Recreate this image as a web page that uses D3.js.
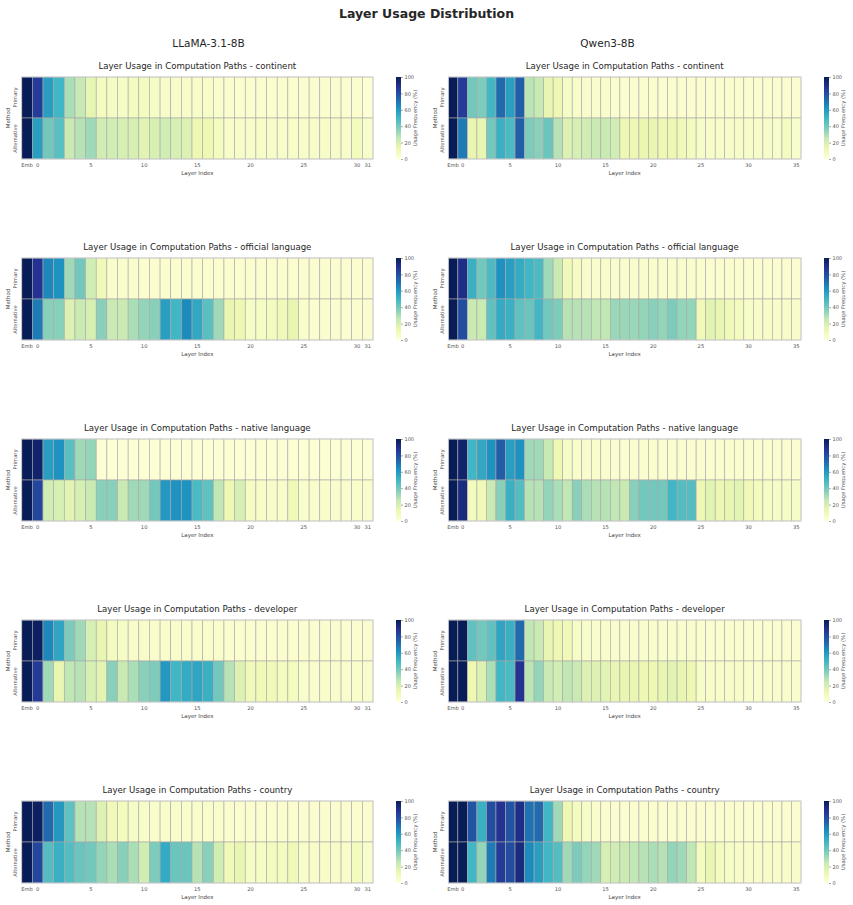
<!DOCTYPE html>
<html>
<head>
<meta charset="utf-8">
<script src="https://cdn.jsdelivr.net/npm/d3@7"></script>
<style>
  body { margin: 0; background: #fff; }
  svg { display: block; font-family: "DejaVu Sans", sans-serif; }
</style>
</head>
<body>
<svg id="chart" width="853" height="905"></svg>
<script>
// values (Usage Frequency %), first entry = Emb
const models = ["LLaMA-3.1-8B", "Qwen3-8B"];
const relations = ["continent", "official language", "native language", "developer", "country"];
const methods = ["Primary", "Alternative"];
const llamaTicks = ["Emb", "0", "5", "10", "15", "20", "25", "30", "31"];
const qwenTicks = ["Emb", "0", "5", "10", "15", "20", "25", "30", "35"];
const colorbarTicks = [0, 20, 40, 60, 80, 100];

const llamaContinentPrimary = [100, 85, 58, 50, 30, 25, 15, 8, 7, 6, 8, 8, 6, 5, 5, 5, 5, 5, 4, 3, 3, 3, 3, 3, 3, 3, 3, 3, 3, 3, 3, 3, 2];
const llamaContinentAlternative = [100, 58, 40, 45, 24, 28, 32, 22, 22, 20, 20, 16, 20, 22, 20, 18, 12, 12, 8, 5, 5, 5, 5, 5, 5, 5, 5, 5, 5, 5, 5, 8, 4];
const qwenContinentPrimary = [100, 85, 40, 38, 50, 72, 58, 75, 27, 25, 14, 12, 6, 5, 4, 4, 4, 3, 3, 3, 3, 3, 3, 3, 3, 3, 3, 3, 3, 3, 3, 3, 3, 3, 3, 3, 3];
const qwenContinentAlternative = [100, 68, 14, 14, 40, 52, 48, 75, 38, 36, 42, 28, 18, 20, 22, 24, 24, 22, 12, 12, 13, 14, 12, 12, 10, 8, 5, 5, 5, 5, 5, 5, 5, 5, 5, 8, 4];

const llamaOfficialPrimary = [100, 88, 65, 62, 32, 40, 22, 10, 4, 4, 4, 3, 3, 3, 3, 3, 3, 3, 3, 3, 3, 3, 3, 3, 3, 3, 3, 3, 3, 3, 3, 3, 3];
const llamaOfficialAlternative = [100, 68, 36, 36, 18, 24, 20, 36, 24, 24, 30, 34, 36, 58, 50, 64, 55, 45, 32, 14, 12, 6, 6, 8, 10, 14, 4, 3, 3, 3, 3, 3, 3];
const qwenOfficialPrimary = [100, 90, 52, 40, 48, 62, 58, 54, 50, 48, 32, 24, 10, 7, 4, 4, 4, 4, 4, 4, 4, 4, 4, 4, 4, 4, 3, 3, 3, 3, 3, 3, 3, 3, 3, 3, 3];
const qwenOfficialAlternative = [100, 80, 24, 24, 44, 54, 52, 44, 42, 50, 40, 38, 28, 28, 28, 26, 26, 33, 33, 33, 34, 36, 34, 38, 34, 34, 10, 16, 14, 10, 8, 5, 5, 5, 5, 5, 5];

const llamaNativePrimary = [100, 96, 58, 62, 45, 32, 34, 2, 2, 2, 2, 2, 2, 2, 2, 2, 2, 2, 2, 2, 2, 2, 2, 2, 2, 2, 2, 2, 2, 2, 2, 2, 2];
const llamaNativeAlternative = [100, 82, 22, 20, 16, 20, 24, 36, 36, 24, 32, 32, 40, 60, 62, 62, 48, 44, 26, 12, 20, 7, 5, 5, 5, 10, 4, 4, 4, 4, 4, 4, 4];
const qwenNativePrimary = [100, 96, 50, 55, 62, 75, 58, 62, 32, 32, 25, 12, 6, 4, 4, 4, 3, 3, 3, 3, 3, 3, 3, 3, 3, 3, 3, 3, 3, 3, 3, 3, 3, 3, 3, 3, 3];
const qwenNativeAlternative = [100, 92, 8, 10, 24, 36, 52, 46, 28, 28, 34, 30, 26, 36, 30, 28, 28, 26, 24, 36, 40, 40, 40, 50, 46, 46, 12, 16, 12, 14, 16, 10, 8, 6, 6, 6, 6];

const llamaDeveloperPrimary = [100, 98, 65, 56, 38, 32, 20, 14, 8, 6, 5, 5, 4, 4, 4, 4, 4, 4, 4, 3, 3, 3, 3, 3, 3, 3, 3, 3, 3, 3, 3, 3, 3];
const llamaDeveloperAlternative = [100, 86, 32, 14, 26, 28, 20, 16, 36, 24, 30, 36, 38, 60, 50, 54, 56, 52, 40, 28, 18, 10, 10, 10, 8, 8, 4, 4, 4, 4, 4, 4, 4];
const qwenDeveloperPrimary = [100, 100, 44, 40, 44, 56, 52, 72, 26, 24, 14, 12, 10, 6, 5, 4, 4, 4, 4, 4, 4, 4, 4, 4, 4, 4, 3, 3, 3, 3, 3, 3, 3, 3, 3, 3, 3];
const qwenDeveloperAlternative = [100, 100, 12, 18, 30, 50, 48, 88, 27, 34, 24, 22, 26, 24, 18, 18, 16, 14, 14, 14, 12, 12, 14, 16, 14, 12, 5, 5, 5, 5, 5, 4, 4, 4, 4, 4, 4];

const llamaCountryPrimary = [100, 98, 72, 60, 44, 28, 28, 18, 10, 8, 6, 5, 4, 4, 4, 4, 4, 4, 4, 3, 3, 3, 3, 3, 3, 3, 3, 3, 3, 3, 3, 3, 3];
const llamaCountryAlternative = [100, 82, 46, 52, 46, 42, 40, 34, 30, 36, 30, 22, 38, 54, 42, 42, 28, 36, 22, 10, 14, 6, 6, 8, 8, 10, 5, 5, 5, 5, 5, 8, 4];
const qwenCountryPrimary = [100, 100, 78, 52, 80, 88, 78, 90, 70, 72, 50, 32, 12, 8, 6, 4, 3, 3, 3, 3, 3, 3, 3, 3, 3, 3, 3, 3, 3, 3, 3, 3, 3, 3, 3, 3, 3];
const qwenCountryAlternative = [100, 100, 50, 34, 68, 85, 80, 92, 64, 58, 50, 46, 32, 38, 34, 32, 20, 22, 24, 26, 28, 30, 28, 34, 32, 26, 8, 14, 8, 6, 5, 5, 5, 5, 5, 5, 5];

const llamaRows = [
  [llamaContinentPrimary, llamaContinentAlternative],
  [llamaOfficialPrimary, llamaOfficialAlternative],
  [llamaNativePrimary, llamaNativeAlternative],
  [llamaDeveloperPrimary, llamaDeveloperAlternative],
  [llamaCountryPrimary, llamaCountryAlternative],
];
const qwenRows = [
  [qwenContinentPrimary, qwenContinentAlternative],
  [qwenOfficialPrimary, qwenOfficialAlternative],
  [qwenNativePrimary, qwenNativeAlternative],
  [qwenDeveloperPrimary, qwenDeveloperAlternative],
  [qwenCountryPrimary, qwenCountryAlternative],
];

// layout
const panelLeft = [21.7, 448.3];
const panelWidth = [351.3, 352.7];
const panelTop0 = 77;
const panelStep = 181;
const panelHeight = 82;
const modelTitleX = [208.5, 607.5];

const svg = d3.select("#chart");
svg.append("rect").attr("width", 853).attr("height", 905).attr("fill", "#fff");

const color = d3
  .scaleLinear()
  .domain(d3.range(9).map((i) => i * 12.5))
  .range(d3.schemeYlGnBu[9]);

const grad = svg
  .append("defs")
  .append("linearGradient")
  .attr("id", "ylgnbu")
  .attr("x1", 0)
  .attr("y1", 1)
  .attr("x2", 0)
  .attr("y2", 0);
grad
  .selectAll("stop")
  .data(d3.schemeYlGnBu[9])
  .enter()
  .append("stop")
  .attr("offset", (d, i) => i / 8)
  .attr("stop-color", (d) => d);

svg
  .append("text")
  .attr("x", 426.5)
  .attr("y", 17.5)
  .attr("text-anchor", "middle")
  .attr("font-size", 12.5)
  .attr("font-weight", "bold")
  .attr("fill", "#262626")
  .text("Layer Usage Distribution");

models.forEach((m, mi) => {
  svg
    .append("text")
    .attr("x", modelTitleX[mi])
    .attr("y", 47)
    .attr("text-anchor", "middle")
    .attr("font-size", 10.5)
    .attr("fill", "#262626")
    .text(m);
});

const drawPanel = (mi, ri, rowData) => {
  const nLayers = rowData[0].length - 1;
  const columns = ["Emb"].concat(d3.range(nLayers).map(String));
  const left = panelLeft[mi];
  const width = panelWidth[mi];
  const top = panelTop0 + ri * panelStep;

  const x = d3.scaleBand().domain(columns).range([left, left + width]);
  const y = d3.scaleBand().domain(methods).range([top, top + panelHeight]);

  const g = svg.append("g");

  const cells = [];
  methods.forEach((method, k) => {
    rowData[k].forEach((v, c) => {
      cells.push({ method: method, col: columns[c], value: v });
    });
  });

  g.selectAll("rect.cell")
    .data(cells)
    .enter()
    .append("rect")
    .attr("class", "cell")
    .attr("x", (d) => x(d.col))
    .attr("y", (d) => y(d.method))
    .attr("width", x.bandwidth())
    .attr("height", y.bandwidth())
    .attr("fill", (d) => color(d.value))
    .attr("stroke", "#a8a8a8")
    .attr("stroke-width", 0.6);

  g.append("rect")
    .attr("x", left)
    .attr("y", top)
    .attr("width", width)
    .attr("height", panelHeight)
    .attr("fill", "none")
    .attr("stroke", "#d4d4d4")
    .attr("stroke-width", 0.8);

  // title
  g.append("text")
    .attr("x", left + width / 2)
    .attr("y", top - 8.5)
    .attr("text-anchor", "middle")
    .attr("font-size", 8.6)
    .attr("fill", "#262626")
    .text("Layer Usage in Computation Paths - " + relations[ri]);

  // x axis
  const xAxis = g
    .append("g")
    .attr("transform", "translate(0," + (top + panelHeight) + ")")
    .call(
      d3
        .axisBottom(x)
        .tickValues(mi === 0 ? llamaTicks : qwenTicks)
        .tickSize(0)
        .tickPadding(4)
    );
  xAxis.select(".domain").remove();
  xAxis.selectAll("text").attr("font-size", 5.2).attr("fill", "#555").attr("font-family", "DejaVu Sans");

  g.append("text")
    .attr("x", left + width / 2)
    .attr("y", top + panelHeight + 16.2)
    .attr("text-anchor", "middle")
    .attr("font-size", 5.5)
    .attr("fill", "#444")
    .text("Layer Index");

  // y labels
  methods.forEach((method) => {
    const cy = y(method) + y.bandwidth() / 2;
    g.append("text")
      .attr("transform", "translate(" + (left - 4.8) + "," + cy + ") rotate(-90)")
      .attr("text-anchor", "middle")
      .attr("font-size", 5.2)
      .attr("fill", "#555")
      .text(method);
  });
  g.append("text")
    .attr("transform", "translate(" + (left - 11.4) + "," + (top + panelHeight / 2) + ") rotate(-90)")
    .attr("text-anchor", "middle")
    .attr("font-size", 5.5)
    .attr("fill", "#444")
    .text("Method");

  // colorbar
  const cbX = left + width + 23;
  const cbW = 5;
  const cbScale = d3.scaleLinear().domain([0, 100]).range([top + panelHeight, top]);
  g.append("rect")
    .attr("x", cbX)
    .attr("y", top)
    .attr("width", cbW)
    .attr("height", panelHeight)
    .attr("fill", "url(#ylgnbu)");
  const cbAxis = g
    .append("g")
    .attr("transform", "translate(" + (cbX + cbW) + ",0)")
    .call(d3.axisRight(cbScale).tickValues(colorbarTicks).tickSize(2).tickPadding(1.5));
  cbAxis.select(".domain").remove();
  cbAxis.selectAll("line").attr("stroke", "#555").attr("stroke-width", 0.5);
  cbAxis.selectAll("text").attr("font-size", 5).attr("fill", "#555").attr("font-family", "DejaVu Sans");
  g.append("text")
    .attr("transform", "translate(" + (cbX + cbW + 16) + "," + (top + panelHeight / 2) + ") rotate(-90)")
    .attr("text-anchor", "middle")
    .attr("font-size", 5.3)
    .attr("fill", "#555")
    .text("Usage Frequency (%)");
};

llamaRows.forEach((rowData, ri) => drawPanel(0, ri, rowData));
qwenRows.forEach((rowData, ri) => drawPanel(1, ri, rowData));
</script>
</body>
</html>
